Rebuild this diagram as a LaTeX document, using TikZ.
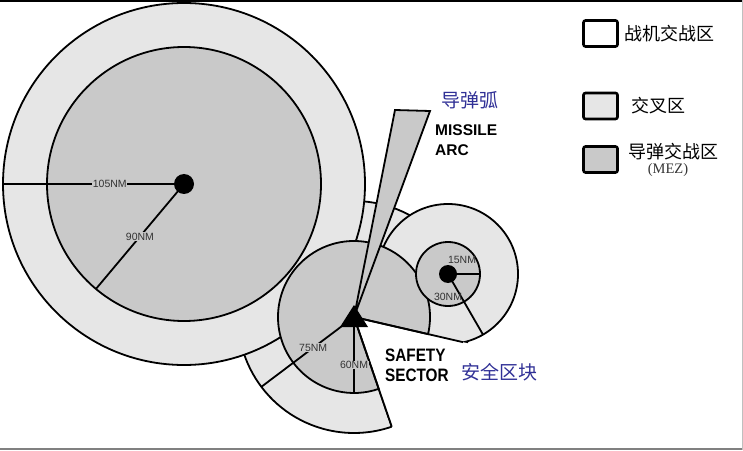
\documentclass[tikz,border=0pt]{standalone}
\usepackage{fontspec}
\setmainfont{Liberation Sans}
\newfontfamily\cjk{Noto Sans CJK SC}
\newfontfamily\abbrfont{Liberation Serif}
\usetikzlibrary{calc}
\definecolor{crossgray}{RGB}{230,230,230}
\definecolor{mezgray}{RGB}{201,201,201}
\definecolor{cnblue}{RGB}{48,48,150}

\begin{document}
\begin{tikzpicture}[x=1pt,y=1pt,
  zone/.style={draw=black,line width=1.8pt},
  crosszone/.style={zone,fill=crossgray},
  mezzone/.style={zone,fill=mezgray},
  radiusline/.style={line width=1.8pt},
  nmlabel/.style={fill=mezgray,inner sep=0.6pt,text=black!80,font=\fontsize{10.5}{10.5}\selectfont},
  sitedot/.style={circle,fill=black,inner sep=0pt,minimum size=#1},
  legendbox/.style={draw,line width=2.6pt,rounded corners=2pt,minimum width=34pt,minimum height=26pt},
  cntext/.style={font=\cjk\fontsize{18}{18}\selectfont},
  bluetext/.style={text=cnblue,font=\cjk\fontsize{19}{19}\selectfont},
  boldtext/.style={align=left,inner sep=0pt,font=\bfseries\fontsize{#1}{20}\selectfont},
  ]
\useasboundingbox (0,0) rectangle (743,450);
% frame
\draw[line width=2pt] (0,449) -- (743,449);
\draw[gray,line width=2pt] (0,1) -- (743,1);
\draw[gray!50,line width=1pt] (742,0) -- (742,450);

\coordinate (left site) at (184,266);
\coordinate (centre site) at (354,133);
\coordinate (right site) at (448,176);

% crossover zones
\draw[crosszone] (centre site) -- ++(-13:116) arc[start angle=-13,end angle=289,radius=116] -- cycle;
\draw[crosszone] (left site) circle[radius=181];
\draw[crosszone] (right site) circle[radius=70];
% safety sector stays white
\fill[white] (centre site) -- ++(-13:118) arc[start angle=-13,end angle=-71,radius=118] -- cycle;

% missile engagement zones
\draw[mezzone] (left site) circle[radius=137];
\draw[mezzone] (centre site) -- ++(-13:76) arc[start angle=-13,end angle=289,radius=76] -- cycle;
\draw[mezzone] (right site) circle[radius=32];

\coordinate (safety a) at ($(centre site)+(-71:116)$);
\coordinate (safety b) at ($(centre site)+(-13:112)$);
\draw[radiusline] (safety a) -- (centre site) -- (safety b);

% missile arc
\coordinate (arc left) at (395,340);
\coordinate (arc right) at (430,339);
\draw[mezzone,line join=miter] (centre site) -- (arc left) -- (arc right) -- cycle;

% radii
\coordinate (r105) at ($(left site)+(180:181)$);
\coordinate (r90) at ($(left site)+(230:137)$);
\coordinate (r75) at ($(centre site)+(217:116)$);
\coordinate (r60) at ($(centre site)+(270:76)$);
\coordinate (r15) at ($(right site)+(0:32)$);
\coordinate (r30) at ($(right site)+(-60:70)$);
\draw[radiusline] (left site) -- (r105) node[nmlabel,pos=0.41] (l105) {105NM};
\draw[radiusline] (left site) -- (r90) node[nmlabel,pos=0.5] (l90) {90NM};
\draw[radiusline] (centre site) -- (r75) node[nmlabel,pos=0.44] (l75) {75NM};
\draw[radiusline] (centre site) -- (r60) node[nmlabel,pos=0.63] (l60) {60NM};
\draw[radiusline] (right site) -- (r15);
\draw[radiusline] (right site) -- (r30);
\node[nmlabel,fill=none] (l15) at (462,190) {15NM};
\node[nmlabel,fill=none] (l30) at (448,153) {30NM};

% sites
\node[sitedot=20pt] (left dot) at (left site) {};
\node[sitedot=18pt] (right dot) at (right site) {};
\fill (centre site) ++(0,12) -- ++(-14,-22) -- ++(28,0) -- cycle;

% texts
\node[bluetext] (arc cn) at (470,350) {导弹弧};
\node[boldtext=15.5,anchor=west] (arc en) at (435,310) {MISSILE\\ARC};
\node[boldtext=18,anchor=west,xscale=0.85] (safety en) at (385,85) {SAFETY\\SECTOR};
\node[bluetext] (safety cn) at (499.5,78) {安全区块};

% legend
\node[legendbox] (fez box) at (600.5,416.5) {};
\node[legendbox,fill=crossgray] (cross box) at (600.5,344) {};
\node[legendbox,fill=mezgray] (mez box) at (600.5,290.5) {};
\node[cntext,anchor=west,inner sep=0pt] (fez text) at ([xshift=5pt]fez box.east) {战机交战区};
\node[cntext,anchor=west,inner sep=0pt] (cross text) at ([xshift=12pt]cross box.east) {交叉区};
\node[cntext,anchor=west,inner sep=0pt] (mez text) at ([xshift=9pt,yshift=7.5pt]mez box.east) {导弹交战区};
\node[font=\abbrfont\fontsize{14.5}{14.5}\selectfont,text=black!80] (mez abbr) at (668,280) {(MEZ)};
\end{tikzpicture}
\end{document}
